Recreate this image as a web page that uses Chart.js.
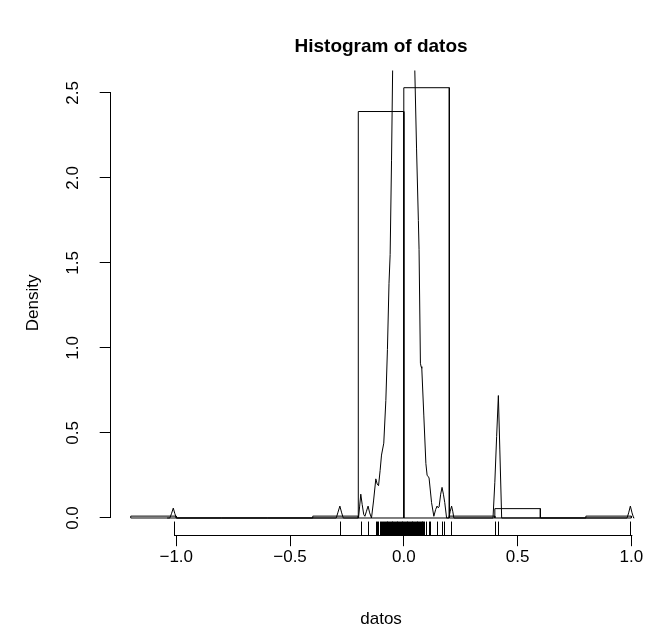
<!DOCTYPE html>
<html>
<head>
<meta charset="utf-8">
<script src="https://cdn.jsdelivr.net/npm/chart.js@4/dist/chart.umd.min.js"></script>
<style>
  html, body { margin: 0; padding: 0; background: #fff; overflow: hidden; }
  #wrap { width: 660px; height: 638px; }
</style>
</head>
<body>
<div id="wrap"><canvas id="c" width="660" height="638"></canvas></div>
<script>
// Histogram of datos: bin breaks and bin densities
const breaks = [-1.2, -1.0, -0.8, -0.6, -0.4, -0.2, 0.0, 0.2, 0.4, 0.6, 0.8, 1.0];
const densities = [0.011, 0, 0, 0, 0.011, 2.39, 2.53, 0.011, 0.055, 0, 0.011];

// Kernel density estimate of datos (x, density)
const kdeX = [
  -1.040, -1.028, -1.021, -1.013, -1.006, -0.999,
  -0.297, -0.290, -0.281, -0.273, -0.266,
  -0.199, -0.194, -0.189, -0.183, -0.176, -0.171, -0.164, -0.157, -0.150, -0.142,
  -0.133, -0.123, -0.117, -0.111, -0.104, -0.098, -0.088, -0.079, -0.072, -0.065,
  -0.060, -0.054, -0.048, -0.040, -0.030, -0.020, -0.010, 0.000, 0.010, 0.020,
  0.030, 0.040, 0.048, 0.056, 0.064, 0.067, 0.073, 0.076, 0.079, 0.088,
  0.097, 0.1025, 0.107, 0.111, 0.122, 0.132, 0.140, 0.146, 0.151, 0.155,
  0.162, 0.168, 0.174, 0.180, 0.188, 0.198, 0.204, 0.210, 0.215, 0.220,
  0.392, 0.400, 0.408, 0.4155, 0.422, 0.430,
  0.981, 0.988, 0.9955, 1.003, 1.010, 1.013
];
const kdeY = [
  0, 0, 0.025, 0.058, 0.025, 0,
  0, 0.03, 0.07, 0.03, 0,
  0, 0.07, 0.14, 0.08, 0.02, 0.01, 0.04, 0.07, 0.03, 0.0,
  0.10, 0.23, 0.20, 0.19, 0.28, 0.37, 0.44, 0.69, 0.99, 1.38,
  1.55, 2.10, 2.75, 3.6, 5.2, 7.2, 8.6, 9.3, 9.4, 8.7,
  6.9, 4.4, 2.65, 2.17, 1.75, 1.58, 0.91, 0.89, 0.88, 0.60,
  0.32, 0.25, 0.245, 0.235, 0.09, 0.01, 0.05, 0.07, 0.06, 0.065,
  0.14, 0.18, 0.14, 0.09, 0.0, 0.0, 0.04, 0.07, 0.04, 0.0,
  0.0, 0.21, 0.48, 0.72, 0.40, 0.0,
  0, 0.03, 0.07, 0.03, 0, 0
];

// Observations shown in the rug
const rugValues = [
  -1.010, -0.281, -0.190, -0.157, -0.124, -0.119, -0.113, -0.106, -0.101, -0.096,
  -0.091, -0.087, -0.083, -0.080, -0.076, -0.072, -0.069, -0.065, -0.061, -0.057,
  -0.054, -0.050, -0.046, -0.043, -0.039, -0.035, -0.031, -0.028, -0.024, -0.021,
  -0.017, -0.013, -0.009, -0.006, -0.002, 0.002, 0.005, 0.009, 0.013, 0.016,
  0.020, 0.024, 0.027, 0.031, 0.035, 0.038, 0.042, 0.046, 0.049, 0.053,
  0.057, 0.060, 0.064, 0.068, 0.071, 0.075, 0.078, 0.081, 0.086, 0.090,
  0.097, 0.112, 0.116, 0.146, 0.166, 0.175, 0.209, 0.401, 0.413, 0.995
];

const xTicks = [-1.0, -0.5, 0.0, 0.5, 1.0];
const yTicks = [0.0, 0.5, 1.0, 1.5, 2.0, 2.5];

// Histogram outline: one closed rectangle per bin, separated by gaps
const histPoints = [];
for (let i = 0; i < densities.length; i++) {
  const a = breaks[i], b = breaks[i + 1], h = densities[i];
  histPoints.push({x: a, y: 0}, {x: a, y: h}, {x: b, y: h}, {x: b, y: 0}, {x: a, y: 0}, {x: a, y: null});
}
const kdePoints = kdeX.map((x, i) => ({x: x, y: kdeY[i]}));

// Plot limits extended by 4% on each side
const xr = breaks[breaks.length - 1] - breaks[0];
const xMin = breaks[0] - 0.04 * xr, xMax = breaks[breaks.length - 1] + 0.04 * xr;
const hMax = Math.max(...densities);
const yMin = -0.04 * hMax, yMax = hMax * 1.04;

const FONT = "'Liberation Sans', Arial, Helvetica, sans-serif";
const fmt = v => (v < 0 ? '\u2212' : '') + Math.abs(v).toFixed(1);

// Axis lines spanning only the first to last tick, plus the rug
const axesAndRug = {
  id: 'axesAndRug',
  afterDatasetsDraw(chart) {
    const {ctx, chartArea, scales} = chart;
    const x = scales.x, y = scales.y;
    const base = Math.round(chartArea.bottom) + 0.5;
    const len = 0.03 * (chartArea.bottom - chartArea.top);
    ctx.save();
    ctx.strokeStyle = '#000';
    ctx.lineWidth = 1;
    ctx.beginPath();
    for (const v of rugValues) {
      const px = Math.round(x.getPixelForValue(v)) + 0.5;
      ctx.moveTo(px, base);
      ctx.lineTo(px, base - len);
    }
    const rMin = Math.min(...rugValues), rMax = Math.max(...rugValues);
    ctx.moveTo(Math.round(x.getPixelForValue(rMin)), base);
    ctx.lineTo(Math.round(x.getPixelForValue(rMax)) + 1, base);
    ctx.moveTo(x.getPixelForValue(xTicks[0]), base);
    ctx.lineTo(x.getPixelForValue(xTicks[xTicks.length - 1]) + 1, base);
    const lx = Math.round(chartArea.left) - 0.5;
    ctx.moveTo(lx, y.getPixelForValue(yTicks[0]));
    ctx.lineTo(lx, y.getPixelForValue(yTicks[yTicks.length - 1]));
    ctx.stroke();
    ctx.restore();
  }
};

new Chart(document.getElementById('c'), {
  type: 'scatter',
  data: {
    datasets: [
      {
        label: 'density',
        data: kdePoints,
        showLine: true,
        borderColor: '#000',
        borderWidth: 1,
        pointRadius: 0,
        tension: 0
      },
      {
        label: 'histogram',
        data: histPoints,
        showLine: true,
        spanGaps: false,
        borderColor: '#000',
        borderWidth: 1,
        pointRadius: 0,
        tension: 0
      }
    ]
  },
  options: {
    responsive: false,
    devicePixelRatio: 1,
    animation: false,
    layout: { padding: { left: 0, right: 8.6, top: 0, bottom: 0 } },
    plugins: { legend: { display: false }, tooltip: { enabled: false } },
    scales: {
      x: {
        type: 'linear',
        position: 'bottom',
        min: xMin,
        max: xMax,
        afterBuildTicks: s => { s.ticks = xTicks.map(v => ({value: v})); },
        ticks: { color: '#000', font: { family: FONT, size: 17 }, padding: 1, callback: fmt, maxRotation: 0, autoSkip: false },
        grid: { display: true, drawOnChartArea: false, drawTicks: true, tickLength: 11, tickColor: '#000', tickWidth: 1 },
        border: { display: false },
        title: { display: true, text: 'datos', color: '#000', font: { family: FONT, size: 17 }, padding: { top: 0, bottom: 8 } },
        afterFit: s => { s.height = 102.8; }
      },
      top: {
        type: 'linear',
        axis: 'x',
        position: 'top',
        min: xMin,
        max: xMax,
        ticks: { display: false },
        grid: { display: false },
        border: { display: false },
        title: { display: true, text: 'Histogram of datos', color: '#000', font: { family: FONT, size: 19, weight: 'bold' }, padding: { top: 35.6, bottom: 0 } },
        afterFit: s => { s.height = 70.5; }
      },
      y: {
        type: 'linear',
        position: 'left',
        min: yMin,
        max: yMax,
        afterBuildTicks: s => { s.ticks = yTicks.map(v => ({value: v})); },
        ticks: { color: '#000', font: { family: FONT, size: 17 }, padding: 15, callback: fmt, minRotation: 90, maxRotation: 90, crossAlign: 'center', autoSkip: false },
        grid: { display: true, drawOnChartArea: false, drawTicks: true, tickLength: 11, tickColor: '#000', tickWidth: 1 },
        border: { display: false },
        title: { display: true, text: 'Density', color: '#000', font: { family: FONT, size: 17 }, padding: { top: 23, bottom: 0 } },
        afterFit: s => { s.width = 110.7; }
      }
    }
  },
  plugins: [axesAndRug]
});
</script>
</body>
</html>
